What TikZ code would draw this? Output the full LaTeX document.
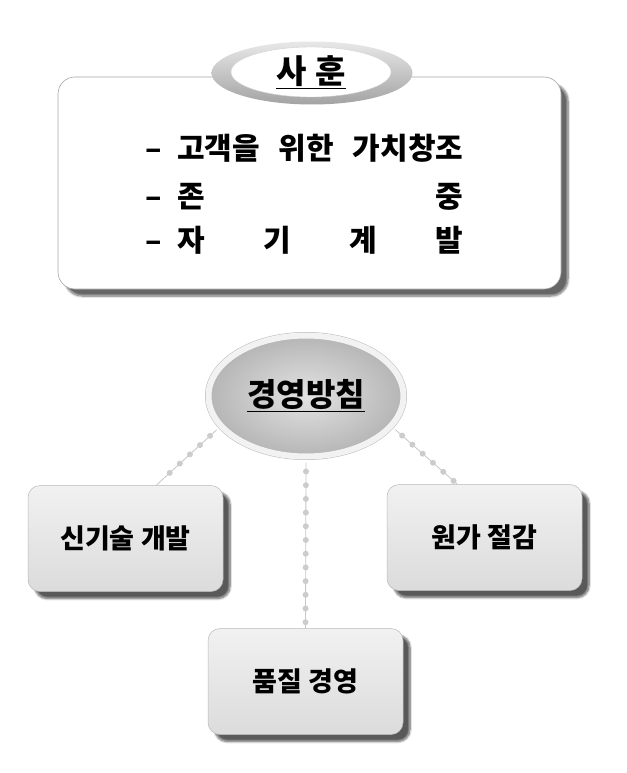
\documentclass[tikz,border=0pt]{standalone}
\usepackage{fontspec}
\setmainfont{Noto Sans CJK KR}
\usetikzlibrary{shapes.geometric, shadows.blur}

\begin{document}
\begin{tikzpicture}[x=1pt, y=-1pt,
  mottoframe/.style={rectangle, draw=gray!70, line width=0.6pt, fill=white, rounded corners=17pt,
    blur shadow={shadow xshift=7pt, shadow yshift=-7pt, shadow opacity=60, shadow blur steps=8}},
  mottotext/.style={anchor=base west, inner sep=0pt, font=\fontsize{30}{36}\selectfont\bfseries},
  policybox/.style={rectangle, rounded corners=12pt, minimum width=195pt, minimum height=106pt,
    draw=gray!55, line width=0.5pt, top color=gray!11, middle color=gray!18, bottom color=gray!28,
    blur shadow={shadow xshift=7pt, shadow yshift=-7pt, shadow opacity=65, shadow blur steps=8},
    font=\fontsize{27}{32}\selectfont\bfseries},
  dotline/.style={draw=gray!45, line width=0.8pt, shorten <=3pt,
    postaction={draw=gray!40, line width=6pt, line cap=round, dash pattern=on 0pt off 13.7pt,
      shorten <=12pt, shorten >=5pt}},
]
  \useasboundingbox (0,0) rectangle (626,773);

  % Sahun
  \node[mottoframe, minimum width=503pt, minimum height=212pt] (motto) at (309.5,183) {};
  \node[ellipse, minimum width=201pt, minimum height=63pt, shading angle=-30,
    top color=gray!18, bottom color=gray!72] (ring) at (312,73) {};
  \node[ellipse, minimum width=160pt, minimum height=50pt, inner sep=0pt, fill=white, draw=gray!35,
    font=\fontsize{33}{38}\selectfont\bfseries] (title) at (311,72) {\underline{사\hspace{9pt}훈}};

  \node[mottotext] (motto1) at (145,159) {\hbox to 32pt{–\hfill}\hbox to 286pt{고객을\hfill 위한\hfill 가치창조}};
  \node[mottotext] (motto2) at (145,207) {\hbox to 32pt{–\hfill}\hbox to 286pt{존\hfill 중}};
  \node[mottotext] (motto3) at (145,251) {\hbox to 32pt{–\hfill}\hbox to 286pt{자\hfill 기\hfill 계\hfill 발}};

  % Gyeongyeong bangchim
  \node[ellipse, minimum width=195pt, minimum height=121pt, inner color=gray!22, outer color=gray!58,
    draw=gray!10, line width=6pt, preaction={draw=gray!55, line width=7pt},
    font=\fontsize{32}{38}\selectfont\bfseries] (policy) at (306,396) {\underline{경영방침}};

  \node[policybox] (tech) at (125.5,538.5) {신기술 개발};
  \node[policybox] (cost) at (484.5,537.5) {원가 절감};
  \node[policybox] (quality) at (305.5,681.5) {품질 경영};

  \draw[dotline] (policy.200) -- (tech.60);
  \draw[dotline] (policy.-20) -- (cost.117);
  \draw[dotline] (policy.south) -- (quality.north);
\end{tikzpicture}
\end{document}
